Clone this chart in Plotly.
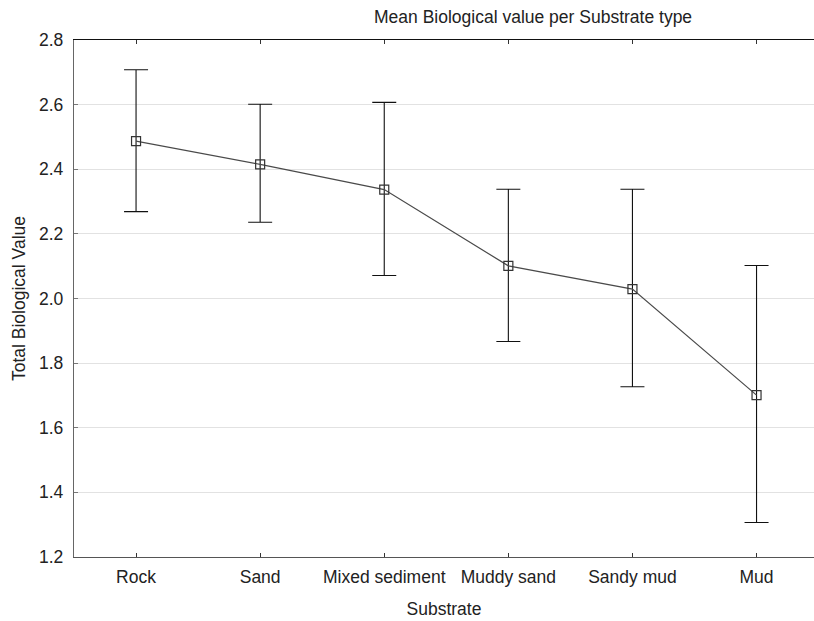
import plotly.graph_objects as go

# Mean biological value by substrate, with confidence limits
substrates = ["Rock", "Sand", "Mixed sediment", "Muddy sand", "Sandy mud", "Mud"]
mean_value = [2.487, 2.415, 2.337, 2.101, 2.029, 1.701]
upper_limit = [2.708, 2.601, 2.607, 2.338, 2.338, 2.102]
lower_limit = [2.269, 2.236, 2.071, 1.867, 1.727, 1.307]
y_ticks = [1.2, 1.4, 1.6, 1.8, 2.0, 2.2, 2.4, 2.6, 2.8]

err_plus = [u - m for u, m in zip(upper_limit, mean_value)]
err_minus = [m - l for m, l in zip(mean_value, lower_limit)]
xpos = list(range(len(substrates)))

FONT = "Liberation Sans, Arial, sans-serif"
TXT = "#222222"

fig = go.Figure()
fig.add_trace(go.Scatter(
    x=xpos, y=mean_value,
    mode="lines+markers",
    line=dict(color="#4a4a4a", width=1.2),
    marker=dict(symbol="square-open", size=9, color="#333333",
                line=dict(width=1.2, color="#333333")),
    error_y=dict(type="data", symmetric=False, array=err_plus,
                 arrayminus=err_minus, color="#111111",
                 thickness=1.1, width=12),
    showlegend=False,
))
# invisible trace to carry the top axis
fig.add_trace(go.Scatter(x=xpos, y=mean_value, xaxis="x2", mode="markers",
                         marker=dict(opacity=0), showlegend=False,
                         hoverinfo="skip"))

xrange = [-0.5, 5.463]
fig.update_layout(
    width=814, height=621,
    margin=dict(l=74, r=0, t=40, b=64),
    paper_bgcolor="white", plot_bgcolor="white",
    font=dict(family=FONT, size=17.5, color=TXT),
    xaxis=dict(
        range=xrange, tickmode="array", tickvals=xpos, ticktext=substrates,
        showgrid=False, zeroline=False,
        showline=True, linecolor="#555555", linewidth=1.3,
        ticks="inside", ticklen=4, tickcolor="#333333",
        ticklabelstandoff=4,
        tickfont=dict(size=17.5, color=TXT),
        title=dict(text="Substrate", font=dict(size=17.5, color=TXT), standoff=16),
    ),
    xaxis2=dict(
        range=xrange, overlaying="x", side="top", tickmode="array",
        tickvals=xpos, showticklabels=False, showgrid=False, zeroline=False,
        showline=True, linecolor="#111111", linewidth=1.3,
        ticks="inside", ticklen=4, tickcolor="#333333",
    ),
    yaxis=dict(
        range=[1.2, 2.8], tickmode="array", tickvals=y_ticks,
        ticktext=[f"{v:.1f}" for v in y_ticks],
        showgrid=True, gridcolor="#e2e2e2", gridwidth=1.2, zeroline=False,
        showline=True, linecolor="#666666", linewidth=1.3,
        ticks="inside", ticklen=4, tickcolor="#777777",
        ticklabelstandoff=6,
        tickfont=dict(size=17.5, color=TXT),
        title=dict(text="Total Biological Value", font=dict(size=17.5, color=TXT),
                   standoff=8),
    ),
    annotations=[dict(
        text="Mean Biological value per Substrate type",
        xref="paper", yref="paper", x=(533 - 74) / 740, y=1,
        yshift=23, xanchor="center", yanchor="middle", showarrow=False,
        font=dict(size=17.5, color=TXT),
    )],
)

fig.write_html("out.html")
